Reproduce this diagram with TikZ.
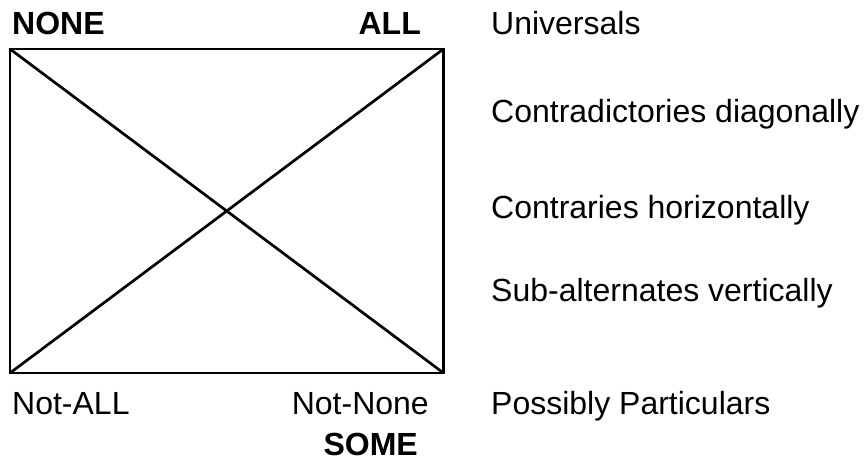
\documentclass[tikz,border=0pt]{standalone}
\usepackage{fontspec}
\setmainfont{Liberation Sans}
\begin{document}
\begin{tikzpicture}[x=1pt,y=-1pt,
  lbl/.style={inner sep=0pt,anchor=base west,font=\fontsize{32}{36}\selectfont},
  lblr/.style={inner sep=0pt,anchor=base east,font=\fontsize{32}{36}\selectfont},
  blbl/.style={inner sep=0pt,anchor=base west,font=\fontsize{32}{36}\selectfont\bfseries},
  blblr/.style={inner sep=0pt,anchor=base east,font=\fontsize{32}{36}\selectfont\bfseries},
  edge/.style={line width=2.7pt,black}]
\useasboundingbox (0,0) rectangle (865,460);
\coordinate (tl) at (10,49);
\coordinate (tr) at (443.5,49);
\coordinate (bl) at (10,373);
\coordinate (br) at (443.5,373);
\draw[edge,line join=miter] (tl) -- (tr) -- (br) -- (bl) -- cycle;
\draw[edge] (tl) -- (br);
\draw[edge] (bl) -- (tr);
\node[blbl] (none) at (12,35) {NONE};
\node[blblr] (all) at (421,35) {ALL};
\node[lbl] (univ) at (491,35) {Universals};
\node[lbl] (contrad) at (491,122) {Contradictories diagonally};
\node[lbl] (contrar) at (491,218) {Contraries horizontally};
\node[lbl] (subalt) at (491,301) {Sub-alternates vertically};
\node[lbl] (notall) at (12,414) {Not-ALL};
\node[lblr] (notnone) at (429,414) {Not-None};
\node[lbl] (poss) at (491,414) {Possibly Particulars};
\node[blblr] (some) at (418,455) {SOME};
\end{tikzpicture}
\end{document}
